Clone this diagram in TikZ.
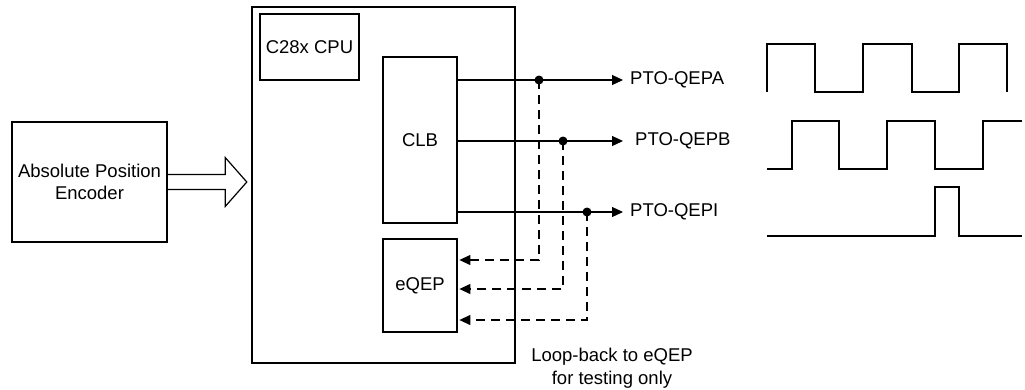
\documentclass[tikz,border=0pt]{standalone}
\usepackage{fontspec}
\setmainfont{Liberation Sans}
\usetikzlibrary{calc}
\usetikzlibrary{arrows.meta}

\begin{document}
\begin{tikzpicture}[x=1pt, y=-1pt,
    font=\fontsize{18.5}{22.5}\selectfont,
    blk/.style={draw, line width=2.4pt, inner sep=0pt, align=center},
    sig/.style={line width=1.2pt, -{Triangle[length=11pt,width=10pt]}},
    lpbk/.style={line width=1.2pt, dash pattern=on 9pt off 6pt, shorten >=1.2pt, -{Triangle[length=11pt,width=10pt]}},
    wave/.style={line width=1.2pt},
    lbl/.style={inner sep=0pt, anchor=west}]
    \useasboundingbox (0,0) rectangle (1025,389);

    % Encoder
    \node[blk, minimum width=155, minimum height=120] (enc) at (89.5,182) {Absolute Position\\Encoder};

    % Device with CPU, CLB and eQEP
    \node[blk, minimum width=263, minimum height=356] (mcu) at (383.5,185) {};
    \node[blk, minimum width=99, minimum height=66] (cpu) at (309.5,47) {C28x CPU};
    \node[blk, minimum width=74, minimum height=166] (clb) at (420,140) {CLB};
    \node[blk, minimum width=74, minimum height=93] (eqep) at (420,285.5) {eQEP};

    % Hollow arrow into the device
    \draw[line width=1.2pt, fill=white] ($(enc.east)+(0,-7.5)$) -- ++(57,0) -- ++(0,-17)
        -- ($(mcu.west |- enc.east)+(-4,0)$) -- ($(enc.east)+(57,24.5)$) -- ++(0,-17)
        -- ($(enc.east)+(0,7.5)$);

    % PTO outputs and loop-back
    \foreach \s/\yy/\xt/\yl/\gap in {A/80/539/260/7, B/141/563/289/12, I/212/587/320/7} {
        \coordinate (tap\s) at (\xt,\yy);
        \coordinate (end\s) at (623,\yy);
        \node[lbl] (pto\s) at ($(end\s)+(\gap,0)$) {PTO-QEP\s};
        \draw[sig] (clb.east |- end\s) -- (end\s);
        \fill (tap\s) circle (4.5);
        \draw[lpbk] (tap\s) |- (eqep.east |- 0,\yl);
    }
    \node[align=center] (note) at (612,368) {Loop-back to eQEP\\for testing only};

    % Waveforms
    \draw[wave] (767,92) -- (767,44) -- (815,44) -- (815,92) -- (863,92) -- (863,44) -- (912,44)
        -- (912,92) -- (959,92) -- (959,44) -- (1007,44) -- (1007,92);
    \draw[wave] (767,169) -- (792,169) -- (792,121) -- (839,121) -- (839,169) -- (887,169)
        -- (887,121) -- (935,121) -- (935,169) -- (983,169) -- (983,121) -- (1022,121);
    \draw[wave] (767,236) -- (935,236) -- (935,187) -- (959,187) -- (959,236) -- (1022,236);
\end{tikzpicture}
\end{document}
